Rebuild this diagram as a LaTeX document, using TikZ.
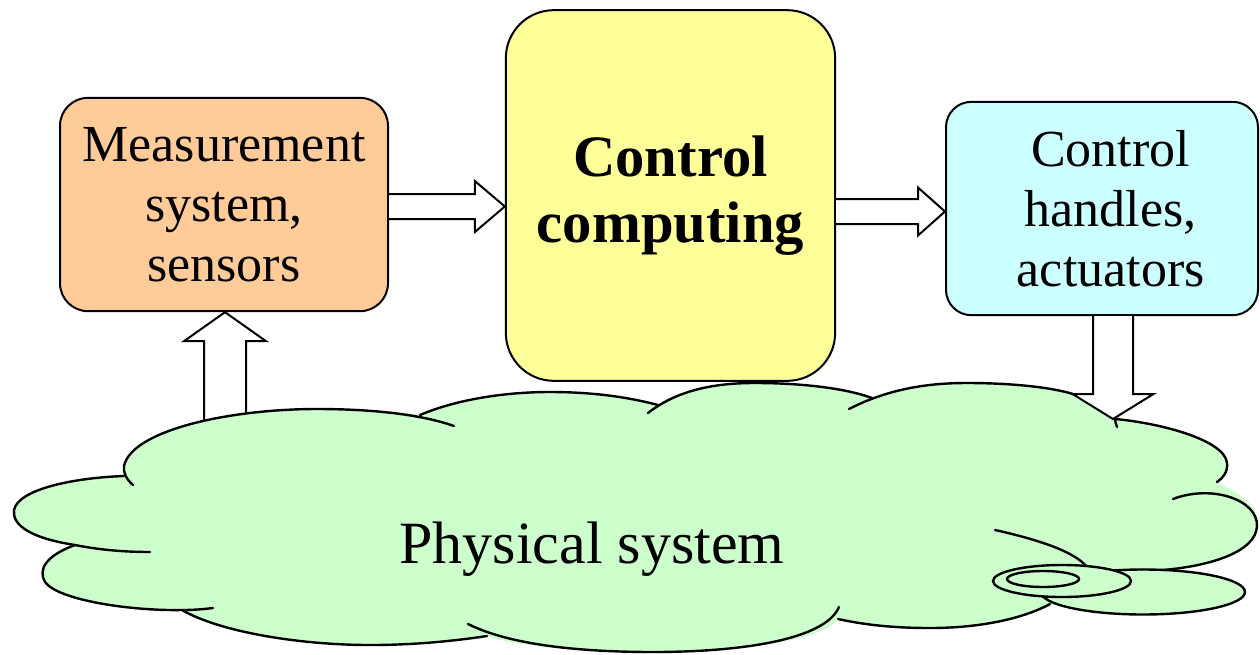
\documentclass[tikz,border=0pt]{standalone}
\usepackage{fontspec}
\setmainfont{Liberation Serif}
\usetikzlibrary{calc}

\definecolor{measorange}{RGB}{255,204,153}
\definecolor{compyellow}{RGB}{255,255,153}
\definecolor{actcyan}{RGB}{204,255,255}
\definecolor{cloudgreen}{RGB}{204,255,204}

\tikzset{
  roundbox/.style={draw, line width=1.5pt, align=center, inner sep=0pt},
  boxtext/.style={font=\fontsize{39}{45}\selectfont},
  blockarrow/.style={draw, fill=white, line width=1.5pt, line join=miter},
  cloudline/.style={draw, line width=1.8pt, line cap=round},
}

\begin{document}
\begin{tikzpicture}[x=0.75pt,y=0.75pt,yscale=-1,xscale=1]
\useasboundingbox (0,0) rectangle (1260,654);

%Shape: Rounded Rect [meas]
\node (meas) [roundbox, boxtext, fill=measorange, rounded corners=21pt,
  minimum width=246pt, minimum height=160pt] at (224,204.5)
  {Measurement\\system,\\sensors};
%Shape: Rounded Rect [comp]
\node (comp) [roundbox, fill=compyellow, rounded corners=36pt,
  font=\fontsize{44}{50}\selectfont\bfseries,
  minimum width=247pt, minimum height=278pt] at (670.5,195.5)
  {Control\\computing};
%Shape: Rounded Rect [act], its text sits a little right of centre
\node (act) [roundbox, fill=actcyan, rounded corners=19pt,
  minimum width=234pt, minimum height=160pt,
  label={[boxtext, align=center, xshift=6.5pt]center:{Control\\handles,\\actuators}}]
  at (1102,208.5) {};

%Block Arrow: meas -> comp
\coordinate (a1s) at ($(meas.east)+(0,2)$);
\coordinate (a1t) at (comp.west |- a1s);
\draw[blockarrow] ($(a1s)+(0,-12.5)$) -- ($(a1t)+(-30,-12.5)$) -- ($(a1t)+(-30,-25.5)$)
  -- (a1t) -- ($(a1t)+(-30,25.5)$) -- ($(a1t)+(-30,12.5)$) -- ($(a1s)+(0,12.5)$);
%Block Arrow: comp -> act
\coordinate (a2s) at ($(comp.east)+(0,16)$);
\coordinate (a2t) at (act.west |- a2s);
\draw[blockarrow] ($(a2s)+(0,-12.5)$) -- ($(a2t)+(-27,-12.5)$) -- ($(a2t)+(-27,-24)$)
  -- (a2t) -- ($(a2t)+(-27,24)$) -- ($(a2t)+(-27,12.5)$) -- ($(a2s)+(0,12.5)$);
%Block Arrow: cloud -> meas (shaft foot goes under the cloud)
\coordinate (a3t) at ($(meas.south)+(1,0)$);
\draw[blockarrow] ($(a3t)+(-21,127)$) -- ($(a3t)+(-21,29)$) -- ($(a3t)+(-41,29)$)
  -- (a3t) -- ($(a3t)+(41,29)$) -- ($(a3t)+(21,29)$) -- ($(a3t)+(21,127)$);

%Shape: Cloud (fill)
\fill[cloudgreen] (124,470)
  .. controls (132,430) and (230,409) .. (317,409)
  .. controls (360,409) and (395,411) .. (420,415)
  .. controls (460,398) and (510,392) .. (550,392)
  .. controls (600,392) and (635,399) .. (656,406)
  .. controls (680,388) and (720,383) .. (755,383)
  .. controls (800,383) and (845,388) .. (872,398)
  .. controls (900,388) and (930,383) .. (967,383)
  .. controls (1010,383) and (1050,387) .. (1073,394)
  -- (1115,419)
  .. controls (1160,423) and (1225,440) .. (1227,463)
  .. controls (1228,472) and (1223,478) .. (1217,482)
  .. controls (1245,497) and (1258,505) .. (1257,526)
  .. controls (1256,552) and (1210,566) .. (1163,570)
  -- (1100,590) -- (1053,605)
  .. controls (1030,615) and (990,628) .. (930,628)
  .. controls (900,628) and (870,626) .. (838,619)
  .. controls (825,640) and (740,652) .. (653,652)
  .. controls (580,652) and (510,645) .. (487,636)
  .. controls (460,640) and (420,645) .. (370,645)
  .. controls (300,644) and (220,632) .. (182,610)
  .. controls (130,611) and (58,600) .. (45,582)
  .. controls (38,570) and (45,556) .. (75,545)
  .. controls (30,538) and (12,525) .. (14,510)
  .. controls (18,490) and (70,478) .. (124,476) -- cycle;
%Shape: Cloud, lower lobe
\draw[cloudline, fill=cloudgreen] (1143,592) ellipse [x radius=102, y radius=22.5];
%Shape: Cloud outline, one bump at a time
\draw[cloudline] (133,485) .. controls (126,479) and (123,472) .. (124,466)
  .. controls (132,430) and (230,409) .. (317,409)
  .. controls (370,409) and (420,414) .. (454,426);
\draw[cloudline] (420,415) .. controls (460,398) and (510,392) .. (550,392)
  .. controls (600,392) and (635,399) .. (658,405);
\draw[cloudline] (648,413) .. controls (680,388) and (720,383) .. (755,383)
  .. controls (800,383) and (845,388) .. (872,398);
\draw[cloudline] (849,409) .. controls (890,388) and (930,383) .. (967,383)
  .. controls (1010,383) and (1050,387) .. (1073,394);
\draw[cloudline] (1117,427) .. controls (1116,424) and (1115,421) .. (1115,419)
  .. controls (1160,423) and (1225,440) .. (1227,463)
  .. controls (1228,472) and (1223,478) .. (1217,482);
\draw[cloudline] (1173,499) .. controls (1212,484) and (1258,500) .. (1257,526)
  .. controls (1256,552) and (1210,566) .. (1163,570);
\draw[cloudline] (995,530) .. controls (1040,540) and (1075,552) .. (1087,567);
\draw[cloudline] (838,619) .. controls (870,626) and (900,628) .. (930,628)
  .. controls (990,628) and (1030,615) .. (1050,604);
\draw[cloudline] (468,624) .. controls (510,645) and (580,652) .. (653,652)
  .. controls (740,652) and (825,640) .. (839,607);
\draw[cloudline] (182,610) .. controls (220,632) and (300,645) .. (370,645)
  .. controls (420,645) and (460,640) .. (487,636);
\draw[cloudline] (75,545) .. controls (45,556) and (38,570) .. (45,582)
  .. controls (58,600) and (130,611) .. (182,610)
  .. controls (195,610) and (205,609) .. (213,608);
\draw[cloudline] (150,552) .. controls (120,552) and (95,549) .. (75,545)
  .. controls (30,538) and (12,525) .. (14,510)
  .. controls (18,490) and (70,478) .. (124,476);
%Shape: Ring on the lower lobe
\draw[cloudline, fill=cloudgreen] (1062,581) ellipse [x radius=69, y radius=16];
\draw[cloudline] (1043,579) ellipse [x radius=36, y radius=8];

% Text Node
\node (phys) [font=\fontsize{45}{54}\selectfont, inner sep=0pt] at (592,549) {Physical system};

%Block Arrow: act -> cloud
\coordinate (a4s) at ($(act.south)+(11,0)$);
\coordinate (cloudtip) at (a4s |- 0,419);
\draw[blockarrow] ($(a4s)+(-20,0)$) -- ($(cloudtip)+(-20,-25)$) -- ($(cloudtip)+(-40.5,-25)$)
  -- (cloudtip) -- ($(cloudtip)+(40.5,-25)$) -- ($(cloudtip)+(20,-25)$) -- ($(a4s)+(20,0)$);
\end{tikzpicture}
\end{document}
